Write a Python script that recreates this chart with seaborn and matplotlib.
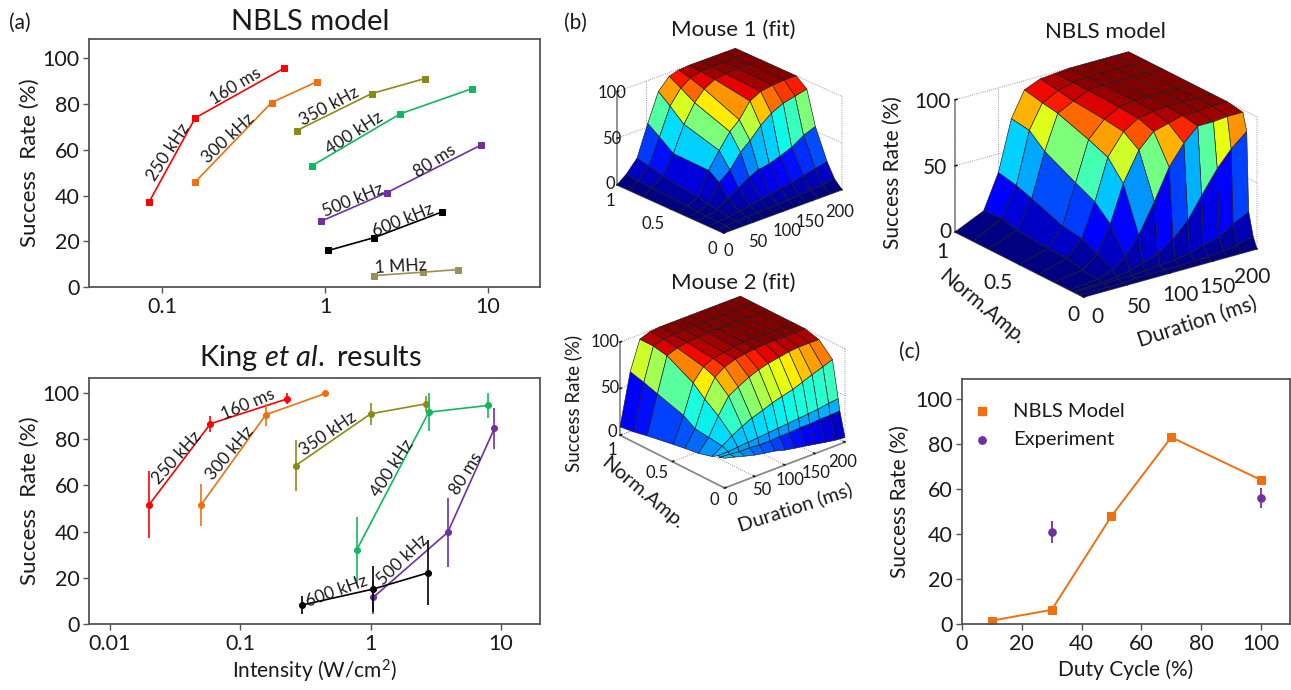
import numpy as np
import matplotlib
matplotlib.use("Agg")
import matplotlib.pyplot as plt
from mpl_toolkits.mplot3d import proj3d
import seaborn as sns

W, H = 1291, 690

# (a) NBLS model: intensity (W/cm2), success rate (%)
nbls_series = {
    "250": ([0.083, 0.16, 0.56], [37, 74, 95.7], "#FF0000"),
    "300": ([0.16, 0.47, 0.89], [46, 80.7, 89.8], "#F07010"),
    "350": ([0.67, 1.93, 4.1], [68.4, 84.6, 91.2], "#8B8B14"),
    "400": ([0.83, 2.9, 8.0], [53, 75.8, 86.8], "#10B860"),
    "500": ([0.94, 2.4, 9.0], [28.7, 41.3, 62], "#7030A0"),
    "600": ([1.05, 2.0, 5.2], [16, 21.6, 32.8], "#000000"),
    "1000": ([2.0, 4.0, 6.5], [5, 6.5, 7.6], "#9B8F5A"),
}

# (a) King et al. results: intensity, success rate, error
king_series = {
    "250": ([0.020, 0.059, 0.23], [51.7, 86.7, 97.5], [14.4, 3.4, 2.4], "#FF0000"),
    "300": ([0.05, 0.157, 0.449], [51.6, 90.6, 99.8], [9, 4.7, 0], "#F07010"),
    "350": ([0.266, 1.0, 2.65], [68.6, 91, 95.3], [11, 4.7, 3.4], "#8B8B14"),
    "400": ([0.78, 2.79, 7.9], [32, 91.7, 94.6], [14.4, 8.3, 5.4], "#10B860"),
    "500": ([1.05, 3.9, 8.9], [11.6, 39.7, 84.7], [7.2, 15, 9], "#7030A0"),
    "600": ([0.297, 1.04, 2.77], [8.2, 15.1, 22.2], [4, 10, 14], "#000000"),
}

# (c) duty cycle
duty_model = [10, 30, 50, 70, 100]
rate_model = [1.5, 6.3, 48, 83, 64]
duty_exp = [30, 100]
rate_exp = [41, 56]
err_exp = [5, 4.5]

# (b) surfaces: rows are norm. amplitude, columns are duration
mouse1_dur = [0, 16, 34, 52, 70, 88, 104, 122, 140, 160, 180, 200]
mouse1_amp = [0, 0.07, 0.14, 0.25, 0.33, 0.43, 0.76, 0.89, 1]
mouse1_z = [
    [0, 0, 0, 0, 0, 0, 0, 0, 0, 0, 0, 0],
    [0, 0, 1, 1, 2, 2, 3, 3, 4, 5, 6, 8],
    [0, 1, 2, 4, 6, 8, 10, 12, 14, 17, 20, 23],
    [0, 1, 4, 12, 19, 26, 31, 33, 37, 42, 50, 55],
    [0, 2, 6, 25, 34, 49, 58, 70, 79, 85, 88, 91],
    [0, 3, 8, 33, 50, 66, 75, 91, 97, 99, 100, 100],
    [0, 5, 14, 34, 61, 80, 91, 97, 99, 100, 100, 100],
    [0, 6, 18, 45, 74, 89, 96, 99, 100, 100, 100, 100],
    [0, 8, 21, 54, 84, 96, 99, 100, 100, 100, 100, 100],
]

mouse2_dur = [0, 17, 33, 50, 66, 84, 100, 116, 134, 150, 166, 184, 200]
mouse2_amp = [0, 0.05, 0.065, 0.12, 0.25, 0.38, 0.49, 0.74, 0.87, 1]
mouse2_z = [
    [32, 29, 26, 23, 21, 19, 16, 14, 12, 10, 8, 6, 5],
    [30, 29, 28, 28, 27, 27, 28, 28, 29, 29, 30, 30, 31],
    [31, 31, 32, 33, 34, 35, 36, 37, 38, 39, 40, 42, 43],
    [27, 34, 41, 47, 52, 56, 60, 63, 66, 70, 74, 78, 82],
    [23, 36, 55, 72, 78, 84, 88, 91, 93, 95, 96, 96, 96],
    [21, 38, 66, 85, 92, 96, 98, 99, 100, 100, 100, 100, 100],
    [19, 46, 77, 90, 95, 97, 99, 100, 100, 100, 100, 100, 100],
    [14, 55, 92, 96, 98, 99, 100, 100, 100, 100, 100, 100, 100],
    [11, 60, 95, 98, 99, 100, 100, 100, 100, 100, 100, 100, 100],
    [9, 64, 95, 99, 100, 100, 100, 100, 100, 100, 100, 100, 100],
]

model_dur = [0, 33, 50, 65, 80, 98, 115, 132, 148, 166, 182, 200]
model_amp = [0, 0.03, 0.065, 0.08, 0.11, 0.23, 0.35, 0.5, 0.74, 0.86, 1]
model_z = [
    [0, 0, 0, 0, 0, 0, 0, 0, 0, 0, 0, 0],
    [0, 0, 0, 1, 1, 1, 1, 2, 2, 3, 5, 8],
    [0, 1, 1, 1, 2, 3, 4, 6, 9, 12, 19, 25],
    [0, 1, 2, 4, 7, 11, 19, 30, 46, 63, 75, 85],
    [0, 2, 6, 13, 27, 49, 72, 87, 97, 97, 98, 98],
    [0, 3, 12, 32, 60, 82, 93, 96, 99, 99, 100, 100],
    [0, 6, 18, 43, 74, 90, 97, 99, 100, 100, 100, 100],
    [0, 6, 20, 50, 80, 92, 98, 100, 100, 100, 100, 100],
    [0, 8, 29, 62, 88, 94, 99, 100, 100, 100, 100, 100],
    [0, 11, 33, 72, 90, 96, 99, 100, 100, 100, 100, 100],
    [0, 10, 36, 74, 93, 98, 99, 100, 100, 100, 100, 100],
]

sns.set_theme(style="white")
plt.rcParams["font.family"] = ["Lato", "DejaVu Sans"]
plt.rcParams["mathtext.fontset"] = "custom"
plt.rcParams["mathtext.rm"] = "Lato"
plt.rcParams["mathtext.it"] = "Lato:italic"
plt.rcParams["text.color"] = "#1a1a1a"
plt.rcParams["axes.labelcolor"] = "#1a1a1a"
plt.rcParams["xtick.color"] = "#1a1a1a"
plt.rcParams["ytick.color"] = "#1a1a1a"

fig = plt.figure(figsize=(W / 100, H / 100), dpi=100)


def px_axes(left, top, right, bottom):
    return fig.add_axes([left / W, 1 - bottom / H, (right - left) / W, (bottom - top) / H])


def label(x, y, s, size=14, rot=0, **kw):
    fig.text(x / W, 1 - y / H, s, fontsize=size, rotation=rot, ha="center", va="center",
             rotation_mode="anchor", **kw)


def style_2d(ax):
    for sp in ax.spines.values():
        sp.set_color("#555555")
        sp.set_linewidth(1.3)
    ax.tick_params(axis="both", which="major", direction="out", length=4, width=1,
                   color="#555555", labelsize=15.5, bottom=True, left=True, pad=3)
    ax.tick_params(axis="both", which="minor", length=0)


# (a) top
ax1 = px_axes(89, 39, 540, 287)
for key, (xs, ys, col) in nbls_series.items():
    sns.lineplot(x=xs, y=ys, color=col, marker="s", markersize=4.3, markeredgecolor=col,
                 linewidth=1.2, ax=ax1, legend=False, estimator=None, sort=False)
ax1.set_xscale("log")
ax1.set_xlim(10 ** -1.448, 10 ** 1.319)
ax1.set_ylim(0, 108.5)
ax1.set_xticks([0.1, 1, 10], ["0.1", "1", "10"])
ax1.set_yticks([0, 20, 40, 60, 80, 100])
ax1.set_ylabel("Success  Rate (%)", fontsize=16, labelpad=2)
style_2d(ax1)

# (a) bottom
ax2 = px_axes(89, 378, 540, 624)
for key, (xs, ys, es, col) in king_series.items():
    sns.lineplot(x=xs, y=ys, color=col, marker="o", markersize=4.3, markeredgecolor=col,
                 linewidth=1.2, ax=ax2, legend=False, estimator=None, sort=False)
    ax2.errorbar(xs, ys, yerr=es, fmt="none", ecolor=col, elinewidth=1.2)
ax2.set_xscale("log")
ax2.set_xlim(10 ** -2.161, 10 ** 1.299)
ax2.set_ylim(0, 106.5)
ax2.set_xticks([0.01, 0.1, 1, 10], ["0.01", "0.1", "1", "10"])
ax2.set_yticks([0, 20, 40, 60, 80, 100])
ax2.set_ylabel("Success  Rate (%)", fontsize=16, labelpad=2)
ax2.set_xlabel("Intensity (W/cm$^2$)", fontsize=15, labelpad=3)
style_2d(ax2)

# (c)
ax3 = px_axes(962, 379, 1290, 624)
sns.lineplot(x=duty_model, y=rate_model, color="#F07010", marker="s", markersize=5.2,
             markeredgecolor="#F07010", linewidth=1.4, ax=ax3, legend=False, estimator=None)
ax3.errorbar(duty_exp, rate_exp, yerr=err_exp, fmt="o", color="#7030A0", markersize=5.2,
             elinewidth=1.3)
ax3.set_xlim(0, 109.7)
ax3.set_ylim(0, 108.9)
ax3.set_xticks([0, 20, 40, 60, 80, 100])
ax3.set_yticks([0, 20, 40, 60, 80, 100])
ax3.set_xlabel("Duty Cycle (%)", fontsize=15, labelpad=4)
ax3.set_ylabel("Success Rate (%)", fontsize=15, labelpad=4)
style_2d(ax3)
ax3.scatter([6.7], [94.5], marker="s", s=28, color="#F07010", zorder=3)
ax3.scatter([6.7], [82], marker="o", s=28, color="#7030A0", zorder=3)
ax3.text(17, 94.5, "NBLS Model", fontsize=14.5, va="center")
ax3.text(17, 82, "Experiment", fontsize=14.5, va="center")


def surface(dur, amp, z, elev, azim, aspect, left, right, bottom):
    ax = fig.add_axes([0.4, 0.4, 0.3, 0.3 * W / H], projection="3d", proj_type="ortho")
    ax.patch.set_alpha(0)
    ax.view_init(elev=elev, azim=azim)
    ax.set_box_aspect((1, 1, aspect))
    X, Y = np.meshgrid(dur, amp)
    Z = np.array(z, dtype=float)
    colors = plt.cm.jet(Z / 100)
    ax.plot_surface(X, Y, Z, facecolors=colors, rstride=1, cstride=1, shade=False,
                    edgecolor="#1c1c1c", linewidth=0.45, antialiased=True)
    ax.set_xlim(0, 200)
    ax.set_ylim(0, 1)
    ax.set_zlim(0, 100)
    ax.set_xticks([0, 50, 100, 150, 200])
    ax.set_yticks([0, 0.5, 1])
    ax.set_zticks([0, 50, 100])
    ax.set_xticklabels([])
    ax.set_yticklabels([])
    ax.set_zticklabels([])
    for a in (ax.xaxis, ax.yaxis, ax.zaxis):
        a.set_pane_color((1, 1, 1, 0))
        a.line.set_color("#888888")
        a._axinfo["grid"].update(color="#777777", linewidth=0.6, linestyle=":")
        a._axinfo["tick"].update(inward_factor=0.0, outward_factor=0.15)
    # line up the floor corners with the reference, in pixels
    for _ in range(3):
        fig.canvas.draw()
        M = ax.get_proj()
        pts = []
        for px_, py_ in [(0, 1), (0, 0), (200, 0)]:
            u, v, _w = proj3d.proj_transform(px_, py_, 0, M)
            pts.append(ax.transData.transform((u, v)))
        pts = np.array(pts)
        pos = ax.get_position(original=True)
        span = pts[:, 0].max() - pts[:, 0].min()
        k = (right - left) / span
        size_w = pos.width * k
        size_h = size_w * W / H
        cx = pos.x0 + pos.width / 2
        cy = pos.y0 + pos.height / 2
        off_x = (pts[:, 0].min() - (cx * W)) * k
        off_y = (pts[:, 1].min() - (cy * H)) * k
        new_cx = (left - off_x) / W
        new_cy = (H - bottom - off_y) / H
        ax.set_position([new_cx - size_w / 2, new_cy - size_h / 2, size_w, size_h])
    return ax


surface(mouse1_dur, mouse1_amp, mouse1_z, 24, -132, 0.64, 617, 842, 233)
surface(mouse2_dur, mouse2_amp, mouse2_z, 26, -131, 0.65, 620, 845, 488)
surface(model_dur, model_amp, model_z, 22, -126.5, 0.66, 955, 1257, 297)

# tick and axis text of the surfaces
for x, y, s in [(612, 93, "100"), (612, 139, "50"), (610, 184, "0"), (610, 201, "1"),
                (653, 224, "0.5"), (712, 249, "0"), (728, 251, "0"), (758, 242, "50"),
                (787, 231, "100"), (810, 222, "150"), (840, 212, "200")]:
    label(x, y, s, size=12)
for x, y, s in [(605, 342, "100"), (610, 388, "50"), (612, 432, "0"), (612, 450, "1"),
                (657, 473, "0.5"), (714, 500, "0"), (732, 500, "0"), (762, 490, "50"),
                (790, 480, "100"), (816, 473, "150"), (843, 462, "200")]:
    label(x, y, s, size=12)
for x, y, s in [(932, 102, "100"), (935, 168, "50"), (945, 232, "0"), (942, 252, "1"),
                (998, 283, "0.5"), (1073, 315, "0"), (1097, 317, "0"), (1139, 307, "50"),
                (1180, 295, "100"), (1217, 287, "150"), (1252, 277, "200")]:
    label(x, y, s, size=15)

label(893, 173, "Success Rate (%)", size=15, rot=90)
label(982, 307, "Norm.Amp.", size=15, rot=-40)
label(1197, 322, "Duration (ms)", size=15, rot=18)
label(573, 403, "Success Rate (%)", size=13.5, rot=90)
label(643, 493, "Norm.Amp.", size=14.5, rot=-40)
label(795, 507, "Duration (ms)", size=14.5, rot=18)

# titles and panel letters
label(310, 22, "NBLS model", size=21)
label(310, 358, "King $\\mathit{et}$ $\\mathit{al.}$ results", size=21)
label(733, 30, "Mouse 1 (fit)", size=16)
label(733, 283, "Mouse 2 (fit)", size=16)
label(1105, 32, "NBLS model", size=16)
label(20, 23, "(a)", size=15)
label(575, 23, "(b)", size=15)
label(910, 352, "(c)", size=15)

# line labels (a) top
for x, y, s, r in [(168, 152, "250 kHz", 57), (236, 86, "160 ms", 31), (228, 138, "300 kHz", 43),
                   (329, 106, "350 kHz", 28), (354, 133, "400 kHz", 33), (435, 161, "80 ms", 33),
                   (353, 200, "500 kHz", 22), (403, 220, "600 kHz", 22), (401, 267, "1 MHz", 3)]:
    label(x, y, s, size=12.5, rot=r)
# line labels (a) bottom
for x, y, s, r in [(177, 458, "250 kHz", 48), (248, 404, "160 ms", 23), (230, 453, "300 kHz", 50),
                   (328, 434, "350 kHz", 34), (392, 468, "400 kHz", 57), (466, 474, "80 ms", 58),
                   (403, 560, "500 kHz", 44), (337, 591, "600 kHz", 20)]:
    label(x, y, s, size=12.5, rot=r)

fig.savefig("out.png", dpi=100)
